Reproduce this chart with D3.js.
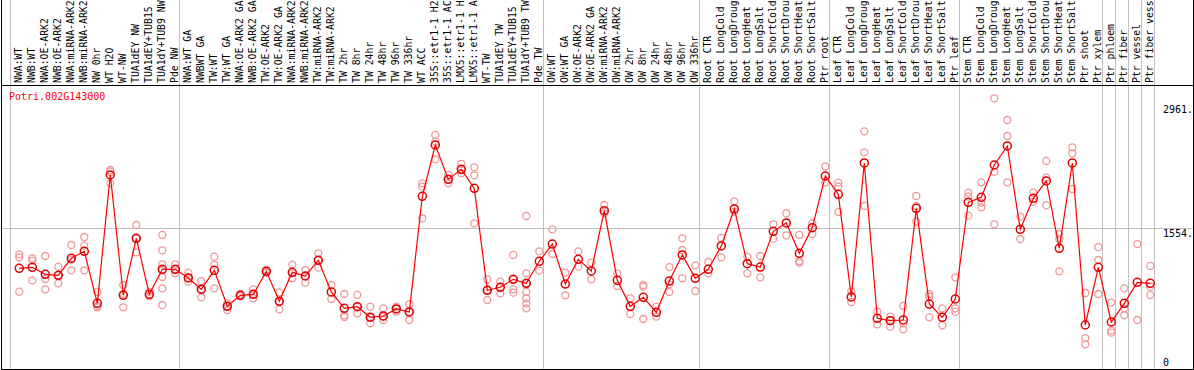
<!DOCTYPE html>
<html><head><meta charset="utf-8">
<script src="https://cdn.jsdelivr.net/npm/d3@7"></script>
<style>
html,body{margin:0;padding:0;background:#fff;}
svg{display:block;}
text{font-family:"DejaVu Sans Mono",monospace;font-size:10px;}
</style></head><body>
<svg id="chart" width="1194" height="370"></svg>
<script>
const geneTitle = "Potri.002G143000";
const categories = [
"NWA:WT","NWB:WT","NWA:OE-ARK2","NWB:OE-ARK2","NWA:miRNA-ARK2","NWB:miRNA-ARK2","NW 0hr","WT H2O","WT-NW","TUA1dEY NW","TUA1dEY+TUB15 NW","TUA1dY+TUB9 NW","Pde NW",
"NWA:WT GA","NWBWT GA","TW:WT","TW:WT GA","NWA:OE-ARK2 GA","NWB:OE-ARK2 GA","TW:OE-ARK2","TW:OE-ARK2 GA","NWA:miRNA-ARK2 GA","NWB:miRNA-ARK2 GA","TW:miRNA-ARK2","TW:miRNA-ARK2 GA","TW 2hr","TW 8hr","TW 24hr","TW 48hr","TW 96hr","TW 336hr","WT ACC","35S::etr1-1 H2O","35S::etr1-1 ACC","LMX5::etr1-1 H2O","LMX5::etr1-1 ACC","WT-TW","TUA1dEY TW","TUA1dEY+TUB15 TW","TUA1dY+TUB9 TW","Pde TW",
"OW:WT","OW:WT GA","OW:OE-ARK2","OW:OE-ARK2 GA","OW:miRNA-ARK2","OW:miRNA-ARK2 GA","OW 2hr","OW 8hr","OW 24hr","OW 48hr","OW 96hr","OW 336hr",
"Root CTR","Root LongCold","Root LongDrought","Root LongHeat","Root LongSalt","Root ShortCold","Root ShortDrought","Root ShortHeat","Root ShortSalt","Ptr root",
"Leaf CTR","Leaf LongCold","Leaf LongDrought","Leaf LongHeat","Leaf LongSalt","Leaf ShortCold","Leaf ShortDrought","Leaf ShortHeat","Leaf ShortSalt","Ptr leaf",
"Stem CTR","Stem LongCold","Stem LongDrought","Stem LongHeat","Stem LongSalt","Stem ShortCold","Stem ShortDrought","Stem ShortHeat","Stem ShortSalt","Ptr shoot","Ptr xylem",
"Ptr phloem","Ptr fiber","Ptr vessel","Ptr fiber vessel"
];
const groupSizes = [13,28,12,10,10,11,1,1,1,1];
const meanValues = [
1097,1109,1029,1018,1211,1290,700,2157,791,1438,802,1086,1086,
988,859,1075,666,791,802,1063,723,1052,1010,1188,829,643,662,541,556,636,602,1915,2497,2107,2221,2005,848,882,972,927,1177,
1373,919,1199,1067,1752,961,666,768,598,953,1249,984,
1086,1351,1771,1150,1112,1517,1612,1268,1559,2145,
1937,772,2293,530,503,511,1778,692,541,749,
1846,1903,2270,2486,1540,1892,2089,1324,2293,454,1109,
488,700,938,927
];
const replicateValues = [
[1256,1222,832],[1211,1184,961],[1237,976,859],[1116,1018,927],[1362,1075,1196],[1453,1355,1075],[829,670,655],[2213,2194,2062],[908,655,806],[1589,1279,1438],[832,783,783],[1476,1302,1143,1078,999,870,681],[1143,1040,1086],
[1048,946,988],[953,768,859],[1230,1139,870],[700,624,666],[806,783,783],[859,806,757],[1078,1048,1063],[825,632,723],[1139,984,1040],[1078,935,1010],[1268,1105,1188],[908,749],[806,564,545],[795,586,662],[662,473,541],[643,549,511],[662,605,636],[692,511,602],[2062,2024,1665],[2611,2535,2334],[2157,2062,2107],[2282,2176,2221],[2244,2153,1608],[972,738,851],[946,813,882],[1249,859,821,972],[1691,1040,927,829,757,700,643],[1290,1071],
[1540,1260],[1048,791],[1290,1116],[1162,972],[1816,1722],[1040,897],[757,579],[908,889,522],[662,549],[1112,916,829],[1438,1305,984],[1131,840],
[1169,1040],[1442,1222],[1858,1740],[1230,1040],[1237,995],[1597,1434],[1722,1472],[1476,1180,1162],[1608,1487],[2255,2073],
[2070,2024,1737],[836,715],[2652,2414,1805],[605,462],[549,435,511],[670,473,405],[1918,1805,1627],[806,776,541],[643,450],[995,643,605],
[1956,1911,1695],[2073,1843,1790],[3027,2194,1597],[2781,2599,2073],[1684,1430],[1956,1854],[2316,2126,1812],[1487,1430,1063],[2471,2403,1998],[817,306,235],[1339,1192,806],
[708,390,367],[870,643,564],[1373,511],[1124,889,795]
];
const yTickValues = [2961, 1554, 0];
const yTickLabels = ["2961.", "1554.", "0"];
const gridValue = 1554;
const labelMaxChars = 14;

const W = 1194, H = 370;
const headerBottom = 85, plotBottom = 369;
const svg = d3.select("#chart");

const x = d3.scaleBand().domain(categories).range([10, 1154]).padding(0);
const px = c => x(c) + 9.3;
const y = d3.scaleLinear().domain([0, 3178]).range([365, headerBottom]);

// horizontal grid line
svg.append("line").attr("x1",1).attr("x2",1193)
  .attr("y1",Math.round(y(gridValue))+0.5).attr("y2",Math.round(y(gridValue))+0.5)
  .attr("stroke","#c0c0c0").attr("stroke-width",1).attr("shape-rendering","crispEdges");

// group separator lines
const starts = [];
let acc = 0;
groupSizes.forEach(s => { starts.push(acc); acc += s; });
const boundaryX = starts.map(i => x(categories[i])).concat([x(categories[categories.length-1]) + x.bandwidth()]);
svg.selectAll("line.grp").data(boundaryX).join("line").attr("class","grp")
  .attr("x1",d=>Math.round(d)+0.5).attr("x2",d=>Math.round(d)+0.5)
  .attr("y1",0).attr("y2",plotBottom)
  .attr("stroke","#c0c0c0").attr("stroke-width",1).attr("shape-rendering","crispEdges");

// category labels (rotated), shown truncated like the reference header
svg.selectAll("text.cat").data(categories).join("text").attr("class","cat")
  .attr("transform", d => `translate(${px(d)+3},${headerBottom-2}) rotate(-90)`)
  .attr("fill","#000").style("font-size","9.8px")
  .text(d => d.length > labelMaxChars ? d.slice(0, labelMaxChars) : d);

// header line and frame
svg.append("line").attr("x1",1).attr("x2",1193).attr("y1",headerBottom+0.5).attr("y2",headerBottom+0.5)
  .attr("stroke","#000").attr("shape-rendering","crispEdges");
svg.append("line").attr("x1",1.5).attr("x2",1.5).attr("y1",0).attr("y2",370)
  .attr("stroke","#000").attr("shape-rendering","crispEdges");
svg.append("line").attr("x1",1193.5).attr("x2",1193.5).attr("y1",0).attr("y2",370)
  .attr("stroke","#000").attr("shape-rendering","crispEdges");
svg.append("line").attr("x1",1).attr("x2",1194).attr("y1",369.5).attr("y2",369.5)
  .attr("stroke","#000").attr("shape-rendering","crispEdges");

// title
svg.append("text").attr("x",9).attr("y",100).attr("fill","#ff0000").text(geneTitle);

// y tick labels
svg.selectAll("text.ytick").data(yTickValues).join("text").attr("class","ytick")
  .attr("x",1163).attr("y",(d)=>Math.min(y(d)+8.5, 366))
  .attr("fill","#000").text((d,i)=>yTickLabels[i]);

// replicates
const reps = [];
categories.forEach((c,i) => replicateValues[i].forEach(v => reps.push({c, v})));
svg.selectAll("circle.rep").data(reps).join("circle").attr("class","rep")
  .attr("cx",d=>px(d.c)).attr("cy",d=>y(d.v)).attr("r",3.5)
  .attr("fill","none").attr("stroke","#f09898").attr("stroke-width",1.3);

// mean line
const line = d3.line().x((d,i)=>px(categories[i])).y(d=>y(d));
svg.append("path").datum(meanValues).attr("d",line)
  .attr("fill","none").attr("stroke","#ff0000").attr("stroke-width",1.2);

// mean markers
svg.selectAll("circle.mean").data(meanValues).join("circle").attr("class","mean")
  .attr("cx",(d,i)=>px(categories[i])).attr("cy",d=>y(d)).attr("r",4)
  .attr("fill","none").attr("stroke","#e00000").attr("stroke-width",1.5);
</script>
</body></html>
